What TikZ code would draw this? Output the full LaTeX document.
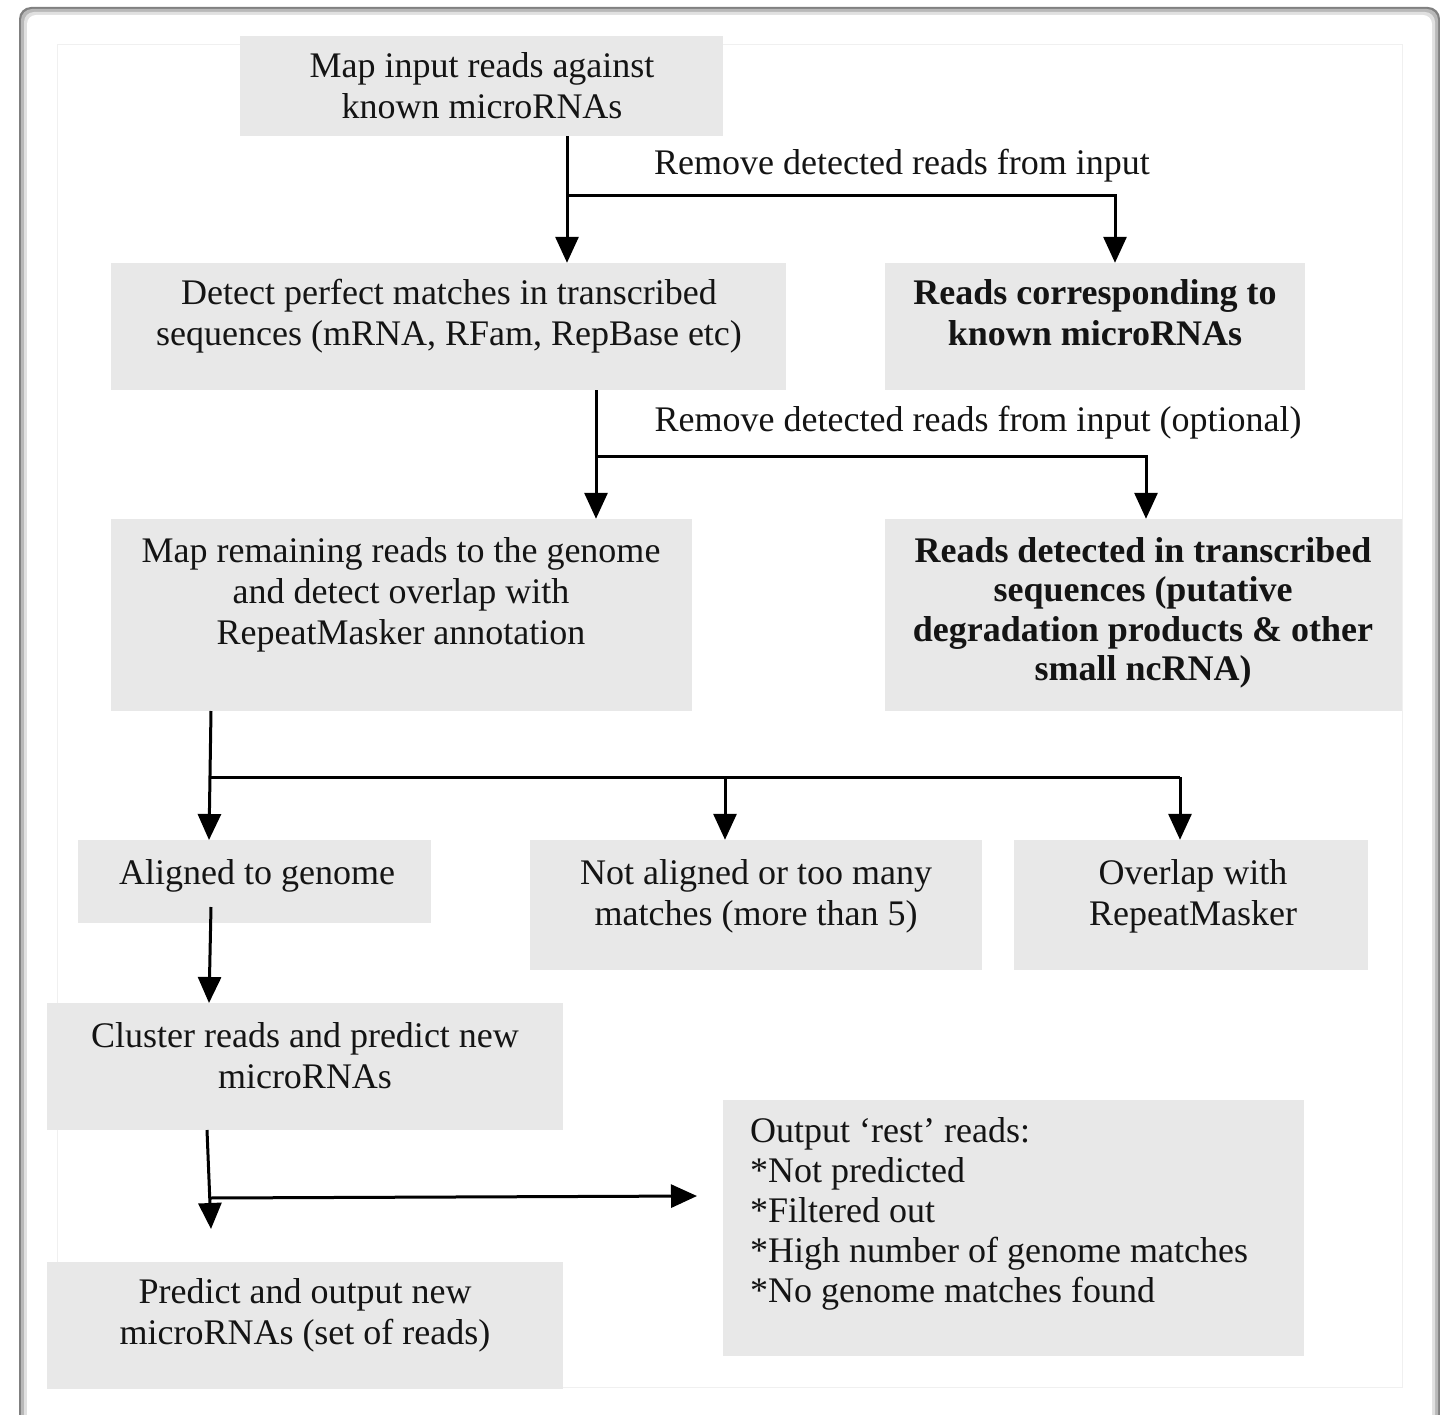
\documentclass[tikz,border=0pt]{standalone}
\usepackage{fontspec}
\setmainfont{Liberation Serif}
\usetikzlibrary{arrows.meta}
\definecolor{boxgray}{RGB}{232,232,232}
\definecolor{txtcol}{RGB}{20,20,20}
\begin{document}
\begin{tikzpicture}[x=1pt,y=-1pt,
  every node/.style={font=\fontsize{36}{41}\selectfont},
  box/.style={fill=boxgray, draw=none, inner sep=0pt},
  txt/.style={align=center, inner sep=0pt, text=txtcol},
  lbl/.style={inner sep=0pt, text=txtcol},
  ln/.style={line width=3pt, line join=miter},
  arr/.style={line width=3pt, line join=miter, -{Triangle[width=23pt,length=26pt]}}]
\useasboundingbox (0,0) rectangle (1440,1415);
\clip (0,0) rectangle (1440,1415);
% outer frame
\fill[black!50, rounded corners=12pt] (19,7) rectangle (1440,1450);
\fill[black!28, rounded corners=11pt] (21,9) rectangle (1438,1450);
\fill[black!12, rounded corners=10pt] (24,12) rectangle (1435,1450);
\fill[white, rounded corners=9pt] (27,15) rectangle (1432,1450);
% inner faint rectangle
\draw[black!6, line width=1pt] (57,45) rectangle (1402,1387);

% boxes
\node[box, minimum width=483pt, minimum height=100pt] (b1) at (481.5,86) {};
\node[box, minimum width=675pt, minimum height=127pt] (b2) at (448.5,326.5) {};
\node[box, minimum width=420pt, minimum height=127pt] (b3) at (1095,326.5) {};
\node[box, minimum width=581pt, minimum height=192pt] (b4) at (401.5,615) {};
\node[box, minimum width=517pt, minimum height=192pt] (b5) at (1143.5,615) {};
\node[box, minimum width=353pt, minimum height=83pt] (b6) at (254.5,881.5) {};
\node[box, minimum width=452pt, minimum height=130pt] (b7) at (756,905) {};
\node[box, minimum width=354pt, minimum height=130pt] (b8) at (1191,905) {};
\node[box, minimum width=516pt, minimum height=127pt] (b9) at (305,1066.5) {};
\node[box, minimum width=581pt, minimum height=256pt] (b10) at (1013.5,1228) {};
\node[box, minimum width=516pt, minimum height=127pt] (b11) at (305,1325.5) {};

% texts
\node[txt] (t1) at (482,86) {Map input reads against\\known microRNAs};
\node[txt] (t2) at (449,316) {Detect perfect matches in transcribed\\sequences (mRNA, RFam, RepBase etc)};
\node[txt, font=\fontsize{36}{41}\selectfont\bfseries] (t3) at (1095,313) {Reads corresponding to\\known microRNAs};
\node[txt] (t4) at (401,595) {Map remaining reads to the genome\\and detect overlap with\\RepeatMasker annotation};
\node[txt, font=\fontsize{36}{39.5}\selectfont\bfseries] (t5) at (1143,613) {Reads detected in transcribed\\sequences (putative\\degradation products \& other\\small ncRNA)};
\node[txt] (t6) at (257,876) {Aligned to genome};
\node[txt] (t7) at (756,896) {Not aligned or too many\\matches (more than 5)};
\node[txt] (t8) at (1193,896) {Overlap with\\RepeatMasker};
\node[txt] (t9) at (305,1056) {Cluster reads and predict new\\microRNAs};
\node[txt, align=left, anchor=west, font=\fontsize{36}{40}\selectfont] (t10) at (750,1214) {Output ‘rest’ reads:\\*Not predicted\\*Filtered out\\*High number of genome matches\\*No genome matches found};
\node[txt] (t11) at (305,1315) {Predict and output new\\microRNAs (set of reads)};

% labels
\node[lbl] (l1) at (902,166) {Remove detected reads from input};
\node[lbl] (l2) at (978,423) {Remove detected reads from input (optional)};

% connectors
\coordinate (j1) at (567,196);
\coordinate (k1) at (1115,196);
\draw[arr] (b1.south -| j1) -- (b2.north -| j1);
\draw[arr] (j1) -- (k1) -- (b3.north -| k1);

\coordinate (j2) at (596,456);
\coordinate (k2) at (1146,456);
\draw[arr] (b2.south -| j2) -- (b4.north -| j2);
\draw[arr] (j2) -- (k2) -- (b5.north -| k2);

\coordinate (s3) at (211,711);
\coordinate (e3) at (209,840);
\coordinate (j3) at (210,777);
\coordinate (m3) at (725,777);
\coordinate (k3) at (1180,777);
\draw[arr] (s3) -- (e3);
\draw[ln] (j3) -- (k3);
\draw[arr] (m3) -- (b7.north -| m3);
\draw[arr] (k3) -- (b8.north -| k3);

\coordinate (s4) at (211,907);
\coordinate (e4) at (209,1003);
\draw[arr] (s4) -- (e4);

\coordinate (s5) at (207,1130);
\coordinate (e5) at (211,1229);
\coordinate (j5) at (209,1198);
\coordinate (e6) at (697,1196);
\draw[arr] (s5) -- (e5);
\draw[arr] (j5) -- (e6);
\end{tikzpicture}
\end{document}
